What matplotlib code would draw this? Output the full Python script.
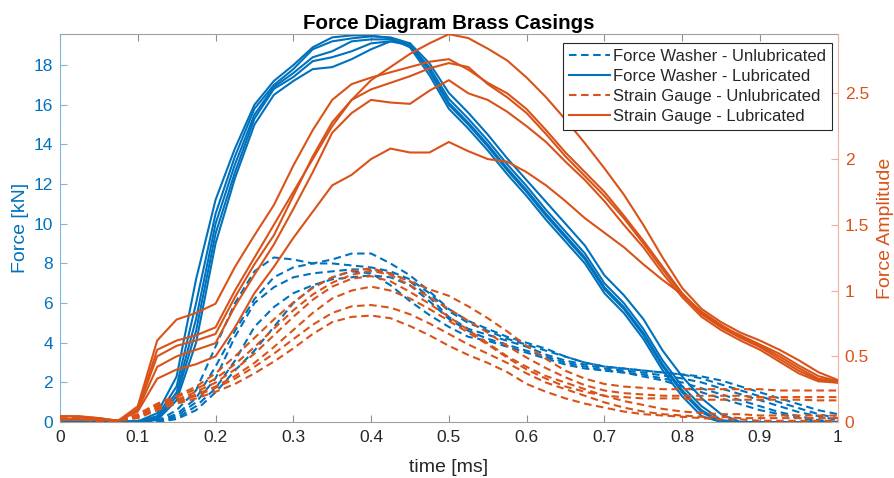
import numpy as np
import matplotlib
matplotlib.use('Agg')
import matplotlib.pyplot as plt
from matplotlib.lines import Line2D

plt.rcParams['font.family'] = ['Liberation Sans', 'DejaVu Sans']

blue = '#0072BD'
orange = '#D95319'

# sample times [ms]
time_ms = [0.0, 0.025, 0.05, 0.075, 0.1, 0.125, 0.15, 0.175, 0.2, 0.225,
           0.25, 0.275, 0.3, 0.325, 0.35, 0.375, 0.4, 0.425, 0.45, 0.475,
           0.5, 0.525, 0.55, 0.575, 0.6, 0.625, 0.65, 0.675, 0.7, 0.725,
           0.75, 0.775, 0.8, 0.825, 0.85, 0.875, 0.9, 0.925, 0.95, 0.975, 1.0]

# force washer, lubricated [kN]
fw_lub = [
    [0.05, 0.05, 0.04, 0.03, 0.03, 0.45, 2.3, 7.2, 11.2, 13.8, 16.0, 17.2, 18.0, 18.9, 19.4, 19.5, 19.5, 19.35, 18.9, 17.5,
     15.8, 14.8, 13.7, 12.5, 11.4, 10.2, 9.1, 8.0, 6.5, 5.5, 4.2, 2.6, 1.3, 0.3, 0.0, 0, 0, 0, 0, 0, 0],
    [0.08, 0.07, 0.05, 0.04, 0.03, 0.3, 1.8, 6.0, 10.5, 13.4, 15.8, 17.0, 17.8, 18.8, 19.2, 19.35, 19.45, 19.4, 19.1, 17.8,
     16.1, 15.1, 14.0, 12.8, 11.7, 10.5, 9.4, 8.3, 6.8, 5.8, 4.5, 2.9, 1.6, 0.6, 0.0, 0, 0, 0, 0, 0, 0],
    [0.05, 0.05, 0.04, 0.03, 0.02, 0.2, 1.5, 5.2, 10.0, 13.0, 15.5, 16.9, 17.6, 18.4, 18.7, 19.2, 19.3, 19.3, 19.0, 17.9,
     16.3, 15.3, 14.2, 13.0, 11.9, 10.7, 9.6, 8.5, 7.0, 6.0, 4.7, 3.1, 1.8, 0.8, 0.1, 0, 0, 0, 0, 0, 0],
    [0.06, 0.05, 0.04, 0.03, 0.02, 0.15, 1.3, 4.6, 9.5, 12.6, 15.3, 16.8, 17.4, 18.2, 18.4, 18.7, 19.1, 19.2, 19.0, 17.7,
     16.0, 15.0, 13.9, 12.7, 11.6, 10.4, 9.3, 8.2, 6.7, 5.7, 4.4, 2.8, 1.5, 0.5, 0.0, 0, 0, 0, 0, 0, 0],
    [0.05, 0.05, 0.04, 0.03, 0.02, 0.1, 1.1, 4.0, 9.0, 12.3, 15.0, 16.5, 17.2, 17.8, 17.9, 18.3, 18.8, 19.2, 19.1, 18.1,
     16.6, 15.6, 14.5, 13.3, 12.2, 11.1, 10.0, 8.9, 7.4, 6.4, 5.2, 3.6, 2.3, 1.2, 0.4, 0, 0, 0, 0, 0, 0],
]

# force washer, unlubricated [kN]
fw_unlub = [
    [0, 0, 0, 0, 0, 0.05, 0.6, 1.6, 3.8, 6.0, 7.6, 8.3, 8.2, 8.0, 8.0, 7.9, 7.8, 7.6, 7.2, 6.5,
     5.6, 5.0, 4.6, 4.2, 3.9, 3.6, 3.3, 3.0, 2.8, 2.7, 2.6, 2.5, 2.4, 2.2, 1.9, 1.6, 1.3, 1.0, 0.7, 0.4, 0.2],
    [0, 0, 0, 0, 0, 0.05, 0.4, 1.2, 2.8, 4.6, 6.2, 7.3, 7.8, 8.0, 8.2, 8.5, 8.5, 8.0, 7.4, 6.6,
     5.7, 5.1, 4.7, 4.3, 4.0, 3.7, 3.3, 3.0, 2.8, 2.7, 2.6, 2.5, 2.4, 2.3, 2.1, 1.8, 1.5, 1.2, 0.9, 0.6, 0.4],
    [0, 0, 0, 0, 0, 0.02, 0.3, 1.0, 2.2, 4.3, 6.0, 6.8, 7.3, 7.5, 7.6, 7.7, 7.7, 7.5, 7.1, 6.3,
     5.3, 4.7, 4.4, 4.1, 3.8, 3.4, 3.1, 2.9, 2.7, 2.6, 2.5, 2.35, 2.2, 2.0, 1.7, 1.4, 1.1, 0.8, 0.5, 0.3, 0.1],
    [0, 0, 0, 0, 0, 0.02, 0.2, 0.8, 1.7, 3.1, 4.8, 5.8, 6.5, 6.9, 7.2, 7.3, 7.4, 7.3, 6.9, 6.1,
     5.2, 4.6, 4.2, 3.9, 3.6, 3.3, 3.0, 2.8, 2.6, 2.5, 2.4, 2.2, 2.0, 1.7, 1.4, 1.1, 0.8, 0.5, 0.3, 0.1, 0.0],
    [0, 0, 0, 0, 0, 0.01, 0.15, 0.6, 1.5, 2.6, 3.6, 4.8, 6.0, 6.8, 7.3, 7.6, 7.5, 6.9, 6.1, 5.4,
     4.8, 4.3, 4.1, 3.8, 3.5, 3.2, 2.9, 2.7, 2.6, 2.5, 2.3, 2.1, 1.8, 1.5, 1.2, 0.9, 0.6, 0.4, 0.2, 0.05, 0.0],
]

# strain gauge, lubricated [amplitude]
sg_lub = [
    [0.02, 0.02, 0.02, 0.01, 0.10, 0.55, 0.62, 0.66, 0.72, 1.00, 1.25, 1.50, 1.75, 2.00, 2.25, 2.45, 2.60, 2.70, 2.80, 2.88,
     2.95, 2.92, 2.84, 2.75, 2.62, 2.47, 2.30, 2.12, 1.93, 1.73, 1.50, 1.25, 1.02, 0.86, 0.76, 0.68, 0.62, 0.55, 0.47, 0.38, 0.32],
    [0.045, 0.045, 0.03, 0.01, 0.12, 0.62, 0.78, 0.83, 0.90, 1.18, 1.42, 1.65, 1.95, 2.22, 2.45, 2.57, 2.62, 2.66, 2.70, 2.74,
     2.76, 2.68, 2.58, 2.50, 2.38, 2.22, 2.05, 1.90, 1.75, 1.57, 1.38, 1.18, 0.98, 0.83, 0.73, 0.66, 0.59, 0.52, 0.43, 0.35, 0.31],
    [0.02, 0.02, 0.02, 0.01, 0.10, 0.50, 0.58, 0.62, 0.67, 0.95, 1.20, 1.42, 1.72, 2.02, 2.28, 2.45, 2.53, 2.58, 2.63, 2.69,
     2.73, 2.70, 2.57, 2.47, 2.35, 2.19, 2.02, 1.87, 1.72, 1.55, 1.36, 1.16, 0.97, 0.82, 0.72, 0.64, 0.57, 0.48, 0.39, 0.32, 0.30],
    [0.02, 0.02, 0.02, 0.01, 0.09, 0.42, 0.50, 0.55, 0.60, 0.88, 1.12, 1.35, 1.62, 1.90, 2.20, 2.35, 2.45, 2.43, 2.42, 2.52,
     2.60, 2.50, 2.45, 2.36, 2.25, 2.13, 1.98, 1.84, 1.68, 1.50, 1.33, 1.13, 0.95, 0.80, 0.70, 0.62, 0.55, 0.46, 0.37, 0.31, 0.30],
    [0.045, 0.04, 0.03, 0.01, 0.08, 0.33, 0.40, 0.44, 0.50, 0.72, 0.98, 1.18, 1.40, 1.60, 1.80, 1.88, 2.00, 2.08, 2.05, 2.05,
     2.13, 2.06, 2.00, 1.98, 1.90, 1.80, 1.68, 1.55, 1.44, 1.33, 1.20, 1.08, 0.97, 0.84, 0.74, 0.65, 0.58, 0.50, 0.41, 0.33, 0.31],
]

# strain gauge, unlubricated [amplitude]
sg_unlub = [
    [0.03, 0.03, 0.02, 0.01, 0.06, 0.14, 0.20, 0.27, 0.37, 0.50, 0.64, 0.78, 0.91, 1.02, 1.10, 1.15, 1.17, 1.13, 1.07, 1.01,
     0.96, 0.88, 0.79, 0.69, 0.58, 0.48, 0.39, 0.33, 0.29, 0.27, 0.26, 0.25, 0.25, 0.25, 0.25, 0.25, 0.25, 0.24, 0.24, 0.24, 0.24],
    [0.02, 0.02, 0.01, 0.01, 0.05, 0.13, 0.19, 0.25, 0.33, 0.44, 0.57, 0.71, 0.85, 0.97, 1.06, 1.12, 1.15, 1.12, 1.04, 0.95,
     0.86, 0.77, 0.68, 0.58, 0.49, 0.41, 0.34, 0.28, 0.24, 0.22, 0.21, 0.20, 0.20, 0.20, 0.20, 0.20, 0.19, 0.19, 0.19, 0.19, 0.19],
    [0.02, 0.02, 0.01, 0.01, 0.05, 0.12, 0.17, 0.23, 0.30, 0.40, 0.52, 0.66, 0.80, 0.93, 1.03, 1.09, 1.11, 1.07, 0.99, 0.90,
     0.80, 0.70, 0.60, 0.50, 0.42, 0.35, 0.30, 0.25, 0.20, 0.16, 0.13, 0.10, 0.08, 0.07, 0.06, 0.06, 0.05, 0.05, 0.05, 0.05, 0.05],
    [0.02, 0.02, 0.01, 0.01, 0.04, 0.11, 0.16, 0.21, 0.27, 0.35, 0.45, 0.57, 0.70, 0.83, 0.94, 1.00, 1.03, 1.00, 0.94, 0.86,
     0.77, 0.68, 0.59, 0.49, 0.40, 0.33, 0.27, 0.23, 0.20, 0.19, 0.18, 0.18, 0.18, 0.17, 0.17, 0.17, 0.17, 0.17, 0.17, 0.165, 0.165],
    [0.02, 0.02, 0.01, 0.01, 0.04, 0.10, 0.15, 0.20, 0.26, 0.33, 0.42, 0.52, 0.63, 0.74, 0.83, 0.88, 0.89, 0.87, 0.82, 0.75,
     0.67, 0.59, 0.52, 0.45, 0.37, 0.30, 0.25, 0.20, 0.15, 0.11, 0.08, 0.06, 0.05, 0.04, 0.04, 0.03, 0.03, 0.03, 0.03, 0.03, 0.03],
    [0.02, 0.02, 0.01, 0.01, 0.03, 0.09, 0.14, 0.18, 0.23, 0.29, 0.37, 0.46, 0.56, 0.67, 0.76, 0.80, 0.81, 0.79, 0.73, 0.66,
     0.58, 0.51, 0.45, 0.38, 0.29, 0.23, 0.18, 0.14, 0.11, 0.08, 0.06, 0.05, 0.04, 0.03, 0.02, 0.02, 0.01, 0.01, 0.01, 0.01, 0.01],
]

x_ticks = [0, 0.1, 0.2, 0.3, 0.4, 0.5, 0.6, 0.7, 0.8, 0.9, 1]
x_labels = ['0', '0.1', '0.2', '0.3', '0.4', '0.5', '0.6', '0.7', '0.8', '0.9', '1']
left_ticks = [0, 2, 4, 6, 8, 10, 12, 14, 16, 18]
right_ticks = [0, 0.5, 1, 1.5, 2, 2.5]
right_labels = ['0', '0.5', '1', '1.5', '2', '2.5']

dash = (0, (3.6, 2.2))

fig = plt.figure(figsize=(8.95, 4.78), dpi=100)
ax = fig.add_axes([0.067, 0.117, 0.869, 0.811])
ax2 = ax.twinx()

for y in fw_unlub:
    ax.plot(time_ms, y, color=blue, lw=1.5, ls=dash)
for y in fw_lub:
    ax.plot(time_ms, y, color=blue, lw=1.5)
for y in sg_unlub:
    ax2.plot(time_ms, y, color=orange, lw=1.5, ls=dash)
for y in sg_lub:
    ax2.plot(time_ms, y, color=orange, lw=1.5)

ax.set_xlim(0, 1)
ax.set_ylim(0, 19.55)
ax2.set_ylim(0, 2.948)

ax.set_xticks(x_ticks)
ax.set_xticklabels(x_labels)
ax.set_yticks(left_ticks)
ax2.set_yticks(right_ticks)
ax2.set_yticklabels(right_labels)

ax.tick_params(axis='x', direction='in', top=True, length=5, width=0.8,
               color='#909090', labelcolor='#262626', labelsize=12.5, pad=6)
ax.tick_params(axis='y', direction='in', length=5, width=0.8,
               color='#7fb6de', labelcolor=blue, labelsize=12.5, pad=5)
ax2.tick_params(axis='y', direction='in', length=5, width=0.8,
                color='#eab39b', labelcolor=orange, labelsize=12.5, pad=5)

for s in ['top', 'bottom']:
    ax.spines[s].set_color('#a0a0a0')
    ax2.spines[s].set_visible(False)
ax.spines['left'].set_color('#7fb6de')
ax.spines['right'].set_visible(False)
ax2.spines['left'].set_visible(False)
ax2.spines['right'].set_color('#eab39b')

ax.set_xlabel('time [ms]', fontsize=14, color='#262626', labelpad=10)
ax.set_ylabel('Force [kN]', fontsize=14, color=blue, labelpad=3)
ax2.set_ylabel('Force Amplitude', fontsize=14, color=orange, labelpad=6)
ax.set_title('Force Diagram Brass Casings', fontsize=14.8, fontweight='bold', pad=4)

handles = [
    Line2D([], [], color=blue, lw=1.5, ls=dash),
    Line2D([], [], color=blue, lw=1.5),
    Line2D([], [], color=orange, lw=1.5, ls=dash),
    Line2D([], [], color=orange, lw=1.5),
]
labels = ['Force Washer - Unlubricated', 'Force Washer - Lubricated',
          'Strain Gauge - Unlubricated', 'Strain Gauge - Lubricated']
leg = ax2.legend(handles, labels, loc='upper right', bbox_to_anchor=(0.993, 0.978),
                 fontsize=12, frameon=True, fancybox=False, framealpha=1,
                 edgecolor='#262626', handlelength=2.45, handletextpad=0.2,
                 labelspacing=0.3, borderpad=0.35, borderaxespad=0)
leg.get_frame().set_linewidth(0.8)
for txt in leg.get_texts():
    txt.set_color('#262626')

fig.savefig('out.png', dpi=100)
